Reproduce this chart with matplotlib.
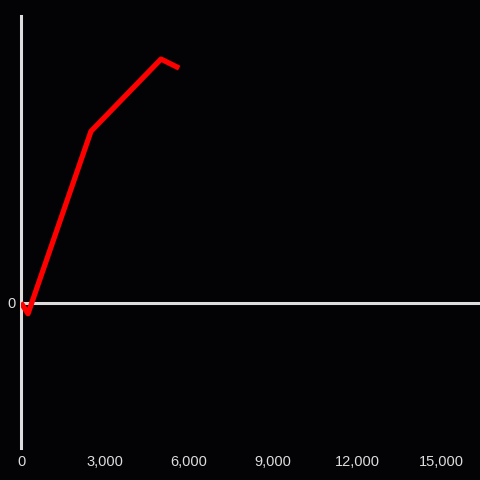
import matplotlib
matplotlib.use("Agg")
import matplotlib.pyplot as plt
from matplotlib.ticker import FuncFormatter

# data
x_vals = [0, 250, 2500, 5000, 5650]
y_vals = [0, -11, 171, 243, 234]
x_ticks = [0, 3000, 6000, 9000, 12000, 15000]

bg = "#030305"
fg = "#dddddd"

fig = plt.figure(figsize=(4.8, 4.8), dpi=100, facecolor=bg)
ax = fig.add_axes([21 / 480, 32 / 480, 1 - 21 / 480, 432 / 480])
ax.set_facecolor(bg)

ax.plot(x_vals, y_vals, color="#ff0000", lw=3.8, solid_joinstyle="round",
        solid_capstyle="butt", zorder=3)

ax.set_xlim(0, 16393)
ax.set_ylim(-145, 286)
ax.axhline(0, color=fg, lw=2.2, zorder=2)

for s in ["top", "right", "bottom"]:
    ax.spines[s].set_visible(False)
ax.spines["left"].set_color(fg)
ax.spines["left"].set_linewidth(2.2)

ax.set_xticks(x_ticks)
ax.xaxis.set_major_formatter(FuncFormatter(lambda v, p: f"{int(v):,}"))
ax.set_yticks([0])
ax.tick_params(axis="both", length=0, colors=fg, labelsize=10.5)
ax.tick_params(axis="x", pad=5)
ax.tick_params(axis="y", pad=4)
for lab in ax.get_xticklabels() + ax.get_yticklabels():
    lab.set_family("Liberation Sans")

fig.savefig("out.png", facecolor=bg)
